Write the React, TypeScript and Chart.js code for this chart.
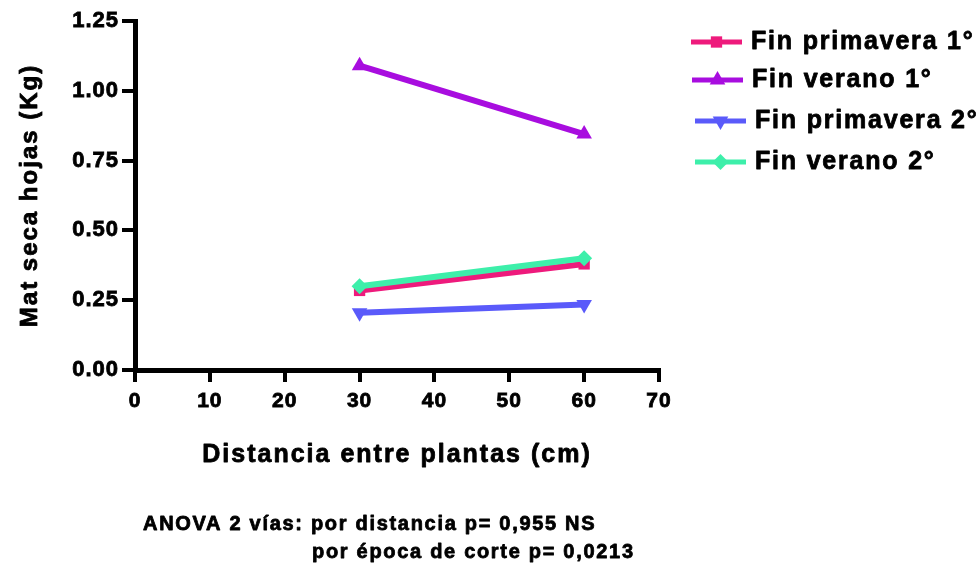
import React, { useEffect, useRef } from "react";
import { Chart, registerables } from "chart.js";

Chart.register(...registerables);

const distances = [30, 60];
const finPrimavera1 = [0.285, 0.38];
const finVerano1 = [1.09, 0.845];
const finPrimavera2 = [0.205, 0.235];
const finVerano2 = [0.3, 0.4];

const xTicks = [0, 10, 20, 30, 40, 50, 60, 70];
const yTicks = [0, 0.25, 0.5, 0.75, 1.0, 1.25];

const seriesNames = ["Fin primavera 1°", "Fin verano 1°", "Fin primavera 2°", "Fin verano 2°"];
const seriesColors = ["#EE1A7C", "#A80DDF", "#5A5AFA", "#3DEFAA"];
const seriesMarkers = ["rect", "triangle", "triangle", "rectRot"];
const seriesRotation = [0, 0, 180, 0];
const seriesRadius = [8, 9, 9, 8];
// later series are painted over earlier ones
const seriesOrder = [4, 3, 2, 1];

const yTitle = "Mat seca hojas (Kg)";
const xTitle = "Distancia entre plantas (cm)";
const noteLine1 = "ANOVA 2 vías: por distancia p= 0,955 NS";
const noteLine2 = "por época de corte p= 0,0213";

const FONT = "'Liberation Sans', Arial, Helvetica, sans-serif";

// small marker shapes for the legend keys
function drawMarker(ctx: CanvasRenderingContext2D, style: string, rotation: number, r: number, x: number, y: number) {
  ctx.save();
  ctx.translate(x, y);
  ctx.rotate((rotation * Math.PI) / 180);
  ctx.beginPath();
  if (style === "rect") {
    const s = r * Math.SQRT1_2;
    ctx.rect(-s, -s, 2 * s, 2 * s);
  } else if (style === "triangle") {
    ctx.moveTo(0, -r);
    ctx.lineTo(r * 0.866, r * 0.5);
    ctx.lineTo(-r * 0.866, r * 0.5);
    ctx.closePath();
  } else {
    ctx.moveTo(0, -r);
    ctx.lineTo(r, 0);
    ctx.lineTo(0, r);
    ctx.lineTo(-r, 0);
    ctx.closePath();
  }
  ctx.fill();
  ctx.restore();
}

// heavy text: fill plus a thin outline of the same colour
function heavyText(ctx: CanvasRenderingContext2D, text: string, x: number, y: number) {
  ctx.fillText(text, x, y);
  ctx.strokeText(text, x, y);
}

const spacingPlugin = {
  id: "tickSpacing",
  beforeDraw(chart: any) {
    (chart.ctx as any).letterSpacing = "1px";
  },
};

const textPlugin = {
  id: "textLayer",
  afterDraw(chart: any) {
    const ctx = chart.ctx as any;
    const area = chart.chartArea;
    ctx.save();
    ctx.fillStyle = "#000";
    ctx.strokeStyle = "#000";
    ctx.lineWidth = 0.8;
    ctx.lineJoin = "round";

    // y-axis title
    ctx.save();
    ctx.translate(30, (area.top + area.bottom) / 2);
    ctx.rotate(-Math.PI / 2);
    ctx.font = `bold 24px ${FONT}`;
    ctx.letterSpacing = "2px";
    ctx.textAlign = "center";
    ctx.textBaseline = "middle";
    heavyText(ctx, yTitle, 0, 0);
    ctx.restore();

    // x-axis title
    ctx.font = `bold 25px ${FONT}`;
    ctx.letterSpacing = "2px";
    ctx.textAlign = "center";
    ctx.textBaseline = "middle";
    heavyText(ctx, xTitle, (area.left + area.right) / 2, 455);

    // ANOVA note
    ctx.font = `bold 20px ${FONT}`;
    ctx.letterSpacing = "1.7px";
    ctx.textAlign = "left";
    ctx.textBaseline = "middle";
    heavyText(ctx, noteLine1, 143, 524);
    heavyText(ctx, noteLine2, 312, 552);

    // legend
    const rows = [42, 80, 121, 162];
    const lineStart = [691, 692, 695, 695];
    seriesNames.forEach((name, i) => {
      const y = rows[i];
      const x0 = lineStart[i];
      const x1 = x0 + 51;
      ctx.strokeStyle = seriesColors[i];
      ctx.lineWidth = 5;
      ctx.beginPath();
      ctx.moveTo(x0, y);
      ctx.lineTo(x1, y);
      ctx.stroke();
      ctx.fillStyle = seriesColors[i];
      drawMarker(ctx, seriesMarkers[i], seriesRotation[i], seriesRadius[i], (x0 + x1) / 2, y);
      ctx.fillStyle = "#000";
      ctx.strokeStyle = "#000";
      ctx.lineWidth = 0.8;
      ctx.font = `bold 25px ${FONT}`;
      ctx.letterSpacing = "1.8px";
      ctx.textAlign = "left";
      ctx.textBaseline = "middle";
      heavyText(ctx, name, x1 + 9, y);
    });
    ctx.restore();
  },
};

export default function App() {
  const canvasRef = useRef<HTMLCanvasElement | null>(null);

  useEffect(() => {
    document.body.style.margin = "0";
    const canvas = canvasRef.current!;
    const allValues = [finPrimavera1, finVerano1, finPrimavera2, finVerano2];
    const datasets = seriesNames.map((name, i) => ({
      label: name,
      data: distances.map((d, j) => ({ x: d, y: allValues[i][j] })),
      borderColor: seriesColors[i],
      backgroundColor: seriesColors[i],
      borderWidth: 6,
      pointStyle: seriesMarkers[i],
      rotation: seriesRotation[i],
      pointRadius: seriesRadius[i],
      pointBorderWidth: 0,
      order: seriesOrder[i],
      fill: false,
      tension: 0,
      clip: false,
    }));

    const chart = new Chart(canvas, {
      type: "line",
      data: { datasets },
      options: {
        animation: false,
        responsive: false,
        devicePixelRatio: 1,
        layout: { padding: { top: 21, right: 320, left: 0, bottom: 0 } },
        plugins: { legend: { display: false }, tooltip: { enabled: false } },
        scales: {
          x: {
            type: "linear",
            min: 0,
            max: 70,
            afterBuildTicks: (scale: any) => {
              scale.ticks = xTicks.map((v) => ({ value: v }));
            },
            afterFit: (scale: any) => {
              scale.height = 194;
            },
            border: { display: true, color: "#000", width: 5 },
            grid: { drawOnChartArea: false, drawTicks: true, tickLength: 12, color: "#000", lineWidth: 4 },
            ticks: {
              color: "#000",
              font: { family: FONT, size: 21, weight: "bold" },
              textStrokeColor: "#000",
              textStrokeWidth: 0.8,
              padding: 7,
              maxRotation: 0,
              autoSkip: false,
            },
          },
          y: {
            type: "linear",
            min: 0,
            max: 1.25,
            afterBuildTicks: (scale: any) => {
              scale.ticks = yTicks.map((v) => ({ value: v }));
            },
            afterFit: (scale: any) => {
              scale.width = 135;
            },
            border: { display: true, color: "#000", width: 5 },
            grid: { drawOnChartArea: false, drawTicks: true, tickLength: 13, color: "#000", lineWidth: 4 },
            ticks: {
              color: "#000",
              font: { family: FONT, size: 22, weight: "bold" },
              textStrokeColor: "#000",
              textStrokeWidth: 0.8,
              padding: 3,
              autoSkip: false,
              callback: (v: any) => Number(v).toFixed(2),
            },
          },
        },
      },
      plugins: [spacingPlugin, textPlugin],
    } as any);

    return () => chart.destroy();
  }, []);

  return (
    <div style={{ position: "absolute", left: 0, top: 0, width: 979, height: 564, background: "#fff" }}>
      <canvas ref={canvasRef} width={979} height={564} style={{ width: 979, height: 564 }} />
    </div>
  );
}
